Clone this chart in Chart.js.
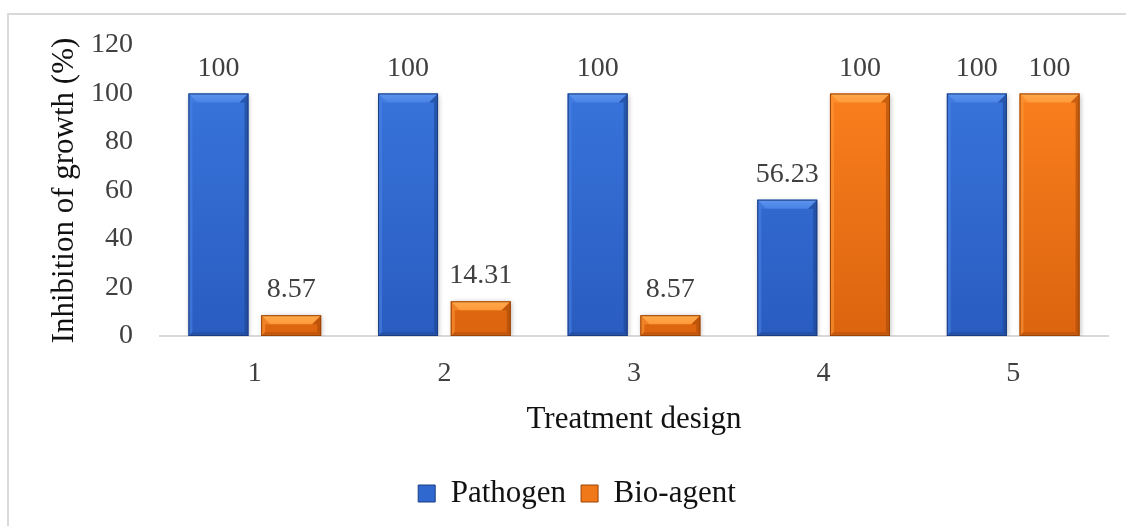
<!DOCTYPE html>
<html>
<head>
<meta charset="utf-8">
<script src="https://cdn.jsdelivr.net/npm/chart.js@4.4.1/dist/chart.umd.min.js"></script>
<style>
  html, body { margin: 0; padding: 0; background: #ffffff; overflow: hidden; }
  #wrap { position: relative; width: 1126px; height: 526px; overflow: hidden; }
  #frame {
    position: absolute; left: 7px; top: 13px; width: 1300px; height: 700px;
    border: 2px solid #d9d9d9; box-sizing: border-box;
  }
  #chart { position: absolute; left: 0; top: 0; }
</style>
</head>
<body>
<div id="wrap">
  <div id="frame"></div>
  <canvas id="chart" width="1126" height="526"></canvas>
</div>
<script>
// Treatment designs and growth inhibition (%) for each organism
const categories = ['1', '2', '3', '4', '5'];
const pathogen = [100, 100, 100, 56.23, 100];
const bioAgent = [8.57, 14.31, 8.57, 100, 100];
const yTicks = [0, 20, 40, 60, 80, 100, 120];

const FONT = "'Liberation Serif', 'Times New Roman', serif";

// Colour sets for the bevelled bars
const palette = {
  blue:   { top: '#3a78e0', bottom: '#2a5cc0', light: '#5d95f0', side: '#4a83e4', dark: '#1d448f', edge: '#1b3d80', key: '#2f68cf' },
  orange: { top: '#ff8420', bottom: '#dc640f', light: '#ffaa4d', side: '#ff9a3a', dark: '#a84a08', edge: '#9a4406', key: '#f07818' }
};

function verticalFill(tone) {
  return (ctx) => {
    const area = ctx.chart.chartArea;
    if (!area) return tone.top;
    const g = ctx.chart.ctx.createLinearGradient(0, area.top, 0, area.bottom);
    g.addColorStop(0, tone.top);
    g.addColorStop(1, tone.bottom);
    return g;
  };
}

// Soft shadow behind the bars
const barShadow = {
  id: 'barShadow',
  beforeDatasetDraw(chart) {
    const c = chart.ctx;
    c.save();
    c.shadowColor = 'rgba(0,0,0,0.28)';
    c.shadowBlur = 5;
    c.shadowOffsetX = 1;
    c.shadowOffsetY = 1;
  },
  afterDatasetDraw(chart) {
    chart.ctx.restore();
  }
};

// Bevel highlights drawn over each bar element
const barBevel = {
  id: 'barBevel',
  afterDatasetsDraw(chart) {
    const c = chart.ctx;
    chart.data.datasets.forEach((ds, i) => {
      const tone = ds.tone;
      chart.getDatasetMeta(i).data.forEach((bar) => {
        const p = bar.getProps(['x', 'y', 'base', 'width'], true);
        const l = p.x - p.width / 2, r = p.x + p.width / 2;
        const t = p.y, b = p.base;
        const h = b - t;
        const bv = Math.min(9, h / 2);
        const sv = Math.min(4, h / 2);
        c.save();
        // top bevel
        const gt = c.createLinearGradient(0, t, 0, t + bv);
        gt.addColorStop(0, tone.light);
        gt.addColorStop(1, tone.side);
        c.fillStyle = gt;
        c.beginPath();
        c.moveTo(l, t); c.lineTo(r, t); c.lineTo(r - bv, t + bv); c.lineTo(l + bv, t + bv); c.closePath();
        c.fill();
        // left side
        c.globalAlpha = 0.55;
        c.fillStyle = tone.side;
        c.beginPath();
        c.moveTo(l, t); c.lineTo(l + bv, t + bv); c.lineTo(l + sv, t + bv); c.lineTo(l + sv, b - sv); c.lineTo(l, b); c.closePath();
        c.fill();
        // right and bottom sides
        c.globalAlpha = 0.6;
        c.fillStyle = tone.dark;
        c.beginPath();
        c.moveTo(r, t); c.lineTo(r - bv, t + bv); c.lineTo(r - sv, t + bv); c.lineTo(r - sv, b - sv); c.lineTo(r, b); c.closePath();
        c.fill();
        c.globalAlpha = 0.45;
        c.beginPath();
        c.moveTo(l, b); c.lineTo(l + sv, b - sv); c.lineTo(r - sv, b - sv); c.lineTo(r, b); c.closePath();
        c.fill();
        c.globalAlpha = 1;
        c.strokeStyle = tone.edge;
        c.lineWidth = 1;
        c.strokeRect(l + 0.5, t + 0.5, r - l - 1, b - t - 1);
        c.restore();
      });
    });
  }
};

// Value labels above every bar
const valueLabels = {
  id: 'valueLabels',
  afterDatasetsDraw(chart) {
    const c = chart.ctx;
    c.save();
    c.font = '28px ' + FONT;
    c.fillStyle = '#404040';
    c.textAlign = 'center';
    c.textBaseline = 'alphabetic';
    chart.data.datasets.forEach((ds, i) => {
      chart.getDatasetMeta(i).data.forEach((bar, j) => {
        const p = bar.getProps(['x', 'y'], true);
        c.fillText(String(ds.data[j]), p.x, p.y - 18);
      });
    });
    c.restore();
  }
};

new Chart(document.getElementById('chart'), {
  type: 'bar',
  data: {
    labels: categories,
    datasets: [
      { label: 'Pathogen', data: pathogen, tone: palette.blue,
        backgroundColor: verticalFill(palette.blue), borderWidth: 0,
        categoryPercentage: 0.767, barPercentage: 0.825 },
      { label: 'Bio-agent', data: bioAgent, tone: palette.orange,
        backgroundColor: verticalFill(palette.orange), borderWidth: 0,
        categoryPercentage: 0.767, barPercentage: 0.825 }
    ]
  },
  options: {
    responsive: false,
    animation: false,
    devicePixelRatio: 1,
    layout: { padding: { top: 45, right: 18, bottom: 7, left: 46 } },
    scales: {
      x: {
        grid: { display: false, drawTicks: false },
        border: { display: true, color: '#d9d9d9', width: 2 },
        ticks: { color: '#404040', font: { family: FONT, size: 28 }, padding: 21 },
        title: { display: true, text: 'Treatment design', color: '#111111',
                 font: { family: FONT, size: 31 }, padding: { top: 8, bottom: 25 } },
        afterFit(scale) { scale.height = 127; }
      },
      y: {
        min: 0, max: 120,
        grid: { display: false, drawTicks: false },
        border: { display: false },
        afterBuildTicks(scale) { scale.ticks = yTicks.map(v => ({ value: v })); },
        ticks: { color: '#404040', font: { family: FONT, size: 28 }, padding: 27 },
        title: { display: true, text: 'Inhibition of growth (%)', color: '#111111',
                 font: { family: FONT, size: 31 }, padding: { top: 0, bottom: 0 } },
        afterFit(scale) { scale.width = 114; }
      }
    },
    plugins: {
      legend: {
        position: 'bottom',
        labels: {
          color: '#111111',
          font: { family: FONT, size: 31 },
          boxWidth: 17, boxHeight: 17, padding: 15,
          generateLabels(chart) {
            return chart.data.datasets.map((ds, i) => ({
              text: ds.label, fillStyle: ds.tone.key, strokeStyle: ds.tone.edge,
              lineWidth: 1, hidden: false, datasetIndex: i, fontColor: '#111111'
            }));
          }
        }
      },
      tooltip: { enabled: false }
    }
  },
  plugins: [barShadow, barBevel, valueLabels]
});
</script>
</body>
</html>
